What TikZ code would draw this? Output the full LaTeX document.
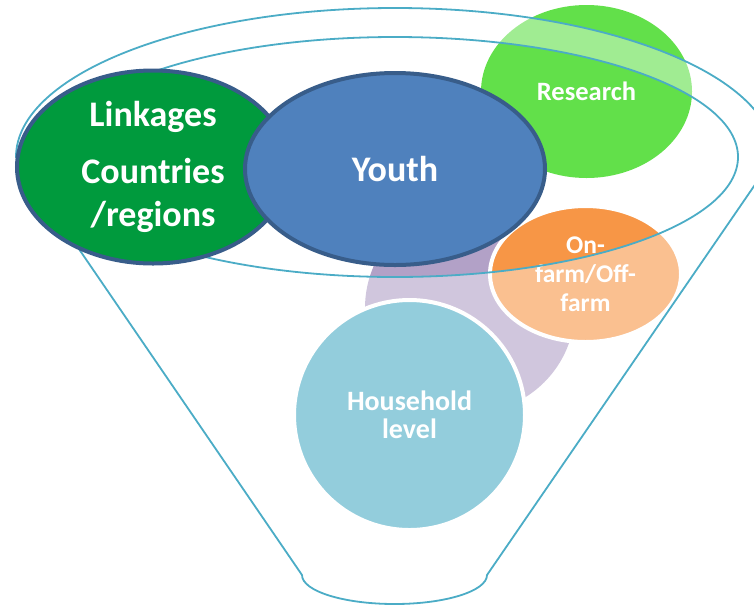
\documentclass[tikz,border=0pt]{standalone}
\usepackage{fontspec}
\setmainfont{Carlito}
\usetikzlibrary{shapes.geometric}
\definecolor{funnelline}{RGB}{75,172,198}
\definecolor{youthblue}{RGB}{79,129,189}
\definecolor{rimblue}{RGB}{56,93,138}
\definecolor{linkgreen}{RGB}{0,154,61}
\definecolor{researchgreen}{RGB}{98,224,74}
\definecolor{farmorange}{RGB}{247,150,70}
\definecolor{lilac}{RGB}{178,161,199}
\definecolor{housecyan}{RGB}{75,172,198}
\tikzset{
	bubble/.style={ellipse, inner sep=0pt, align=center, text=white},
	rimmed/.style={bubble, draw=rimblue, line width=4pt},
	haloed/.style={bubble, draw=white, line width=4pt},
	funnel/.style={draw=funnelline, line width=1.8pt}
}

\begin{document}
\begin{tikzpicture}[x=1pt, y=-1pt]
	\useasboundingbox (0,0) rectangle (754,606);
	\clip (0,0) rectangle (754,606);

	\coordinate (rimleft) at (16,157);
	\coordinate (mouth) at (395,157);
	\coordinate (spoutright) at (487,575);

	% things falling into the funnel
	\node[bubble, fill=lilac, minimum width=210pt, minimum height=210pt] (blank) at (470,308) {};
	\node[haloed, fill=housecyan, minimum width=231pt, minimum height=230pt, font=\bfseries\fontsize{28}{28}\selectfont] (household) at (409.5,415) {Household\\level};
	\node[haloed, fill=farmorange, minimum width=191pt, minimum height=136pt, font=\bfseries\fontsize{25.5}{29}\selectfont] (farm) at (585.5,274) {On-\\farm/Off-\\farm};
	\node[bubble, fill=researchgreen, minimum width=211pt, minimum height=173pt, font=\bfseries\fontsize{26.5}{30}\selectfont] (research) at (586.5,91.5) {Research};

	% funnel body
	\fill[white, fill opacity=0.4, even odd rule] (rimleft) arc[start angle=180, end angle=0, x radius=379pt, y radius=149pt] -- (spoutright) arc[start angle=0, end angle=-180, x radius=92.5pt, y radius=29pt] -- cycle (mouth) ellipse[x radius=343pt, y radius=120pt];
	\draw[funnel] (rimleft) arc[start angle=180, end angle=0, x radius=379pt, y radius=149pt] -- (spoutright) arc[start angle=0, end angle=-180, x radius=92.5pt, y radius=29pt] -- cycle;
	\draw[funnel] (mouth) ellipse[x radius=343pt, y radius=120pt];

	% on top of the rim
	\node[rimmed, fill=linkgreen, minimum width=272pt, minimum height=193pt, font=\bfseries\fontsize{36}{43}\selectfont] (linkages) at (153,167) {Linkages\\[14pt]Countries\\/regions};
	\node[rimmed, fill=youthblue, minimum width=300pt, minimum height=192pt, font=\bfseries\fontsize{36}{42}\selectfont] (youth) at (395,169) {Youth};
\end{tikzpicture}
\end{document}
